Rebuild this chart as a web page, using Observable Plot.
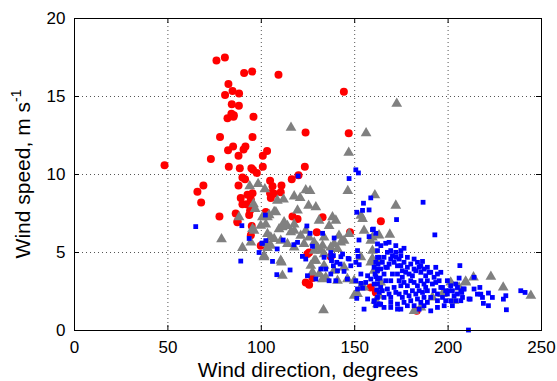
<!DOCTYPE html>
<html>
<head>
<meta charset="utf-8">
<script src="https://cdn.jsdelivr.net/npm/d3@7"></script>
<script src="https://cdn.jsdelivr.net/npm/@observablehq/plot@0.6"></script>
<style>
  html, body { margin: 0; padding: 0; background: #fff; }
</style>
</head>
<body>
<div id="chart"></div>
<script>
// Axis ticks
const xTicks = [0, 50, 100, 150, 200, 250];
const yTicks = [0, 5, 10, 15, 20];

// Observations: [wind direction (degrees), wind speed (m/s)]
const redObs = [
  [76.0,17.3],[80.5,17.5],[90.8,16.5],[95.1,16.6],[109.2,16.4],[82.4,15.8],[84.6,15.35],[80.6,15.1],
  [88.1,15.2],[144.2,15.3],[84.2,14.5],[88.0,14.4],[85.3,13.8],[84.0,13.9],[81.9,13.6],[85.1,13.7],
  [95.8,13.7],[77.9,12.4],[95.3,12.4],[123.7,12.7],[146.8,12.65],[82.2,11.56],[84.9,11.8],[91.5,11.8],
  [90.5,11.6],[87.8,11.2],[73.0,11.0],[103.1,11.5],[100.8,11.2],[48.2,10.6],[82.6,10.5],[88.5,10.4],
  [94.7,10.4],[95.6,10.3],[97.6,10.1],[100.8,10.5],[123.3,10.5],[89.9,9.8],[91.3,9.7],[69.0,9.3],
  [87.8,9.3],[104.7,9.6],[106.0,9.25],[110.8,9.3],[116.3,9.7],[119.9,9.95],[65.8,8.9],[67.8,8.2],
  [77.6,7.3],[89.0,8.5],[92.6,8.7],[95.3,8.8],[92.1,8.1],[89.9,8.1],[94.4,8.4],[86.3,7.5],
  [87.3,7.0],[93.5,7.4],[94.0,7.7],[102.4,7.6],[94.9,6.7],[94.4,6.1],[104.7,8.8],[105.1,8.5],
  [116.7,7.3],[119.4,7.15],[132.8,7.26],[129.7,6.3],[147.5,6.3],[164.0,7.0],[123.8,3.08],[125.6,2.94],
  [124.7,4.9],[125.6,5.0],[137.2,4.73],[158.6,2.76],[161.3,2.44],[127.4,3.36],[183.2,1.26],[99.7,5.44],
  [106.9,8.76],[110.4,8.87],[87.2,6.94]
];

const grayObs = [
  [115.9,13.0],[156.1,12.65],[146.8,11.4],[172.5,14.54],[146.3,8.95],[160.8,8.67],[123.8,9.0],[126.1,8.95],
  [117.6,8.6],[120.8,8.5],[111.9,8.4],[101.9,9.06],[93.8,9.25],[98.3,9.4],[125.3,8.0],[129.2,7.9],
  [119.4,7.7],[106.9,7.6],[104.2,7.4],[100.6,7.26],[153.3,7.37],[154.2,7.15],[138.1,7.26],[139.9,7.05],
  [130.9,7.05],[112.2,6.94],[114.0,6.7],[117.6,6.8],[109.5,6.5],[117.6,6.4],[136.3,6.7],[147.0,6.2],
  [155.0,6.4],[159.5,5.97],[163.0,6.1],[125.6,5.97],[122.9,5.55],[128.3,5.65],[133.6,5.97],[141.6,6.08],
  [142.6,5.65],[105.1,5.97],[103.3,5.55],[110.4,5.76],[114.0,5.55],[117.6,5.33],[137.2,5.33],[140.8,5.23],
  [131.9,5.12],[133.6,4.9],[153.3,4.7],[159.5,4.6],[78.7,5.85],[95.8,8.1],[96.7,7.8],[88.1,7.26],
  [96.1,6.4],[89.9,5.3],[94.4,5.65],[101.5,4.7],[103.3,5.3],[102.4,6.8],[103.3,7.26],[95.3,6.51],
  [99.7,6.72],[107.8,7.58],[105.1,5.44],[110.4,4.48],[103.3,6.19],[106.9,5.87],[108.6,8.33],[111.3,6.62],
  [115.8,6.3],[121.1,6.08],[123.8,6.4],[110.8,4.37],[111.3,3.51],[133.3,1.31],[126.5,4.15],[127.4,3.73],
  [129.2,4.48],[131.0,3.62],[132.8,3.3],[134.5,3.4],[128.3,5.12],[132.8,5.44],[139.0,5.55],[101.5,4.8],
  [149.7,3.19],[151.5,2.34],[159.5,5.12],[163.1,2.23],[153.3,2.76],[130.1,5.33],[144.3,5.76],[128.3,4.48],
  [133.6,4.16],[139.0,3.84],[144.3,4.05],[140.8,3.19],[146.1,3.3],[155.0,2.76],[149.7,2.23],[161.3,1.91],
  [158.6,4.37],[163.0,4.48],[172.0,8.01],[168.8,6.15],[158.6,5.76],[209.4,3.15],[201.4,3.08],[205.9,2.76],
  [181.8,1.26],[185.4,1.48],[160.4,3.83],[163.9,3.08],[191.6,2.12],[197.0,2.34],[162.2,1.69],[203.2,1.91],
  [222.9,3.45],[213.6,3.41],[209.5,3.08],[229.5,2.76],[244.3,2.23]
];

const blueObs = [
  [64.9,6.66],[89.6,6.72],[102.2,7.4],[93.5,5.9],[102.4,5.76],[100.6,5.6],[98.8,5.0],[89.0,4.45],
  [119.7,9.9],[150.6,10.3],[152.0,10.1],[147.0,9.74],[154.7,8.16],[158.6,8.5],[154.2,7.7],[157.7,7.73],
  [151.1,7.58],[124.4,6.7],[126.1,6.23],[132.8,6.23],[159.5,6.47],[157.7,6.02],[152.3,5.8],[139.0,5.93],
  [111.7,5.8],[119.4,5.65],[117.4,5.5],[108.5,5.23],[127.4,5.4],[162.2,5.55],[151.5,5.12],[151.8,4.75],
  [143.5,4.9],[142.6,4.73],[137.2,4.69],[133.6,4.69],[122.0,4.75],[146.5,4.62],[162.2,4.69],[100.3,5.59],
  [106.0,4.43],[108.3,3.58],[115.4,3.88],[123.8,4.58],[137.2,5.0],[138.6,4.8],[147.0,4.58],[150.6,4.37],
  [147.9,4.15],[152.4,4.22],[153.3,3.62],[156.9,3.51],[162.5,4.26],[162.2,3.94],[160.9,3.62],[161.3,3.45],
  [158.6,3.3],[153.3,3.02],[154.2,2.72],[151.5,2.66],[162.2,2.98],[161.8,2.6],[156.9,2.02],[160.4,1.86],
  [163.1,1.7],[155.0,1.37],[151.1,2.06],[139.9,3.19],[137.2,3.62],[136.3,3.19],[140.8,3.83],[144.3,3.79],
  [131.9,3.94],[134.5,3.94],[138.6,4.15],[140.4,4.37],[124.7,3.51],[129.2,3.3],[137.6,4.48],[142.2,4.26],
  [146.1,3.3],[150.6,3.19],[155.9,3.08],[163.6,3.36],[186.6,8.22],[172.4,7.11],[192.9,6.13],[176.4,5.27],
  [206.3,4.16],[205.9,3.36],[210.9,0.03],[211.2,2.02],[160.0,6.5],[161.3,6.23],
  [166.6,5.59],[168.4,5.65],[167.5,5.01],[169.3,5.12],[170.2,4.80],[172.0,4.69],[165.7,4.69],[163.1,4.69],
  [161.3,4.37],[160.4,4.05],[162.2,3.83],[163.9,3.94],[166.6,4.05],[168.4,4.26],[171.1,4.37],[173.8,4.58],
  [176.4,4.37],[174.7,4.16],[178.2,4.05],[180.0,4.26],[183.6,4.37],[186.3,4.43],[187.1,3.94],[188.9,4.05],
  [189.8,3.73],[185.4,3.73],[182.7,3.83],[180.9,3.51],[177.3,3.73],[175.5,3.41],[172.9,3.62],[170.2,3.62],
  [165.7,3.62],[162.2,3.30],[160.4,2.98],[163.9,2.76],[167.5,2.66],[171.1,2.76],[174.7,2.87],[178.2,2.87],
  [181.8,3.08],[185.4,3.19],[188.9,3.19],[192.5,3.41],[194.3,3.62],[195.2,3.19],[191.6,2.98],[188.0,2.76],
  [184.5,2.55],[180.9,2.55],[177.3,2.44],[173.8,2.34],[169.3,2.12],[165.7,2.12],[162.2,2.12],[160.4,1.91],
  [163.9,1.69],[169.3,1.80],[172.9,1.69],[176.4,1.80],[180.0,1.91],[183.6,2.02],[187.1,2.12],[190.7,2.12],
  [194.3,2.34],[197.0,2.12],[200.5,2.55],[201.4,2.87],[204.1,2.98],[203.2,2.23],[206.8,2.55],[208.6,2.66],
  [201.4,1.91],[197.9,1.59],[194.3,1.48],[190.7,1.26],[187.1,1.59],[185.4,1.80],[174.7,1.37],[172.9,1.37],
  [165.7,1.48],[161.3,1.59],[206.8,1.91],[202.3,1.59],[198.7,1.91],[205.0,2.76],[207.7,2.12],
  [167.5,4.05],[169.3,4.58],[164.8,4.37],[172.9,4.15],[175.5,3.83],[179.1,3.62],[181.8,3.94],[184.5,4.05],
  [188.0,3.51],[190.7,3.73],[193.4,3.08],[196.1,2.76],[198.7,2.55],[180.0,3.19],[176.4,3.08],[173.8,3.19],
  [169.3,3.19],[166.6,3.19],[164.8,2.55],[168.4,2.34],[172.0,2.44],[175.5,2.12],[179.1,2.23],[182.7,2.34],
  [186.3,2.44],[188.9,2.55],[192.5,2.55],[197.0,2.76],[199.6,2.34],[205.0,2.34],[178.2,1.59],[181.8,1.59],
  [184.5,1.37],[169.3,1.48],[163.1,2.44],[194.3,1.91],[188.9,1.80],[183.6,2.87],[187.1,2.98],[172.0,5.01],
  [174.7,4.80],[178.2,4.69],[181.8,4.58],[185.4,4.15],[193.4,4.05],[196.1,3.73],[199.6,3.19],[202.3,2.55],
  [204.1,1.91],[162.2,5.12],[164.0,5.44],[172.0,5.44],[174.7,5.12],
  [213.9,3.41],[208.2,2.66],[207.3,2.44],[213.9,2.66],[217.0,2.76],[215.7,2.33],[217.5,2.33],[218.4,2.12],
  [221.6,2.40],[223.7,2.12],[211.8,2.01],[218.9,1.74],[221.6,1.59],[229.6,2.01],[230.9,2.23],[231.2,1.33],
  [238.9,2.55],[241.2,2.44]
];

const W = 557, H = 381;
const M = {top: 18, right: 16, bottom: 51, left: 74};
const frameW = W - M.left - M.right;
const frameH = H - M.top - M.bottom;
const font = "'Liberation Sans', Arial, Helvetica, sans-serif";
const tickLen = 5;

const chart = Plot.plot({
  width: W,
  height: H,
  marginTop: M.top,
  marginRight: M.right,
  marginBottom: M.bottom,
  marginLeft: M.left,
  style: {fontFamily: font, background: "#fff", color: "#000"},
  x: {domain: [0, 250]},
  y: {domain: [0, 20]},
  marks: [
    // dotted grid lines
    Plot.ruleX(xTicks.slice(1, -1), {stroke: "#555", strokeDasharray: "1,3", strokeWidth: 1}),
    Plot.ruleY(yTicks.slice(1, -1), {stroke: "#555", strokeDasharray: "1,3", strokeWidth: 1}),
    // data
    Plot.dot(redObs, {x: d => d[0], y: d => d[1], r: 4, fill: "#ff0000"}),
    Plot.dot(grayObs, {x: d => d[0], y: d => d[1], symbol: "triangle", r: 4, fill: "#808080"}),
    Plot.dot(blueObs, {x: d => d[0], y: d => d[1], symbol: "square", r: 2.7, fill: "#0000ff"}),
    // inward ticks on all four sides
    Plot.tickX(xTicks, {x: d => d, insetTop: frameH - tickLen, stroke: "#000"}),
    Plot.tickX(xTicks, {x: d => d, insetBottom: frameH - tickLen, stroke: "#000"}),
    Plot.tickY(yTicks, {y: d => d, insetRight: frameW - tickLen, stroke: "#000"}),
    Plot.tickY(yTicks, {y: d => d, insetLeft: frameW - tickLen, stroke: "#000"}),
    Plot.frame({stroke: "#000", strokeWidth: 1}),
    // tick labels
    Plot.axisX({ticks: xTicks, tickSize: 0, tickPadding: 10, fontSize: 17, label: null}),
    Plot.axisY({ticks: yTicks, tickSize: 0, tickPadding: 9, fontSize: 17, label: null}),
    // x-axis title
    Plot.text(["Wind direction, degrees"], {frameAnchor: "bottom", dy: 46, lineAnchor: "bottom", fontSize: 21, fill: "#000"})
  ]
});

// y-axis title with a superscript unit exponent
const svg = d3.select(chart);
const yTitle = svg.append("text")
  .attr("transform", `translate(30,${M.top + frameH / 2}) rotate(-90)`)
  .attr("text-anchor", "middle")
  .attr("font-family", font)
  .attr("font-size", 21)
  .attr("fill", "#000");
yTitle.append("tspan").text("Wind speed, m s");
yTitle.append("tspan").attr("font-size", 14).attr("dy", -9).text("-1");

document.getElementById("chart").appendChild(chart);
</script>
</body>
</html>
